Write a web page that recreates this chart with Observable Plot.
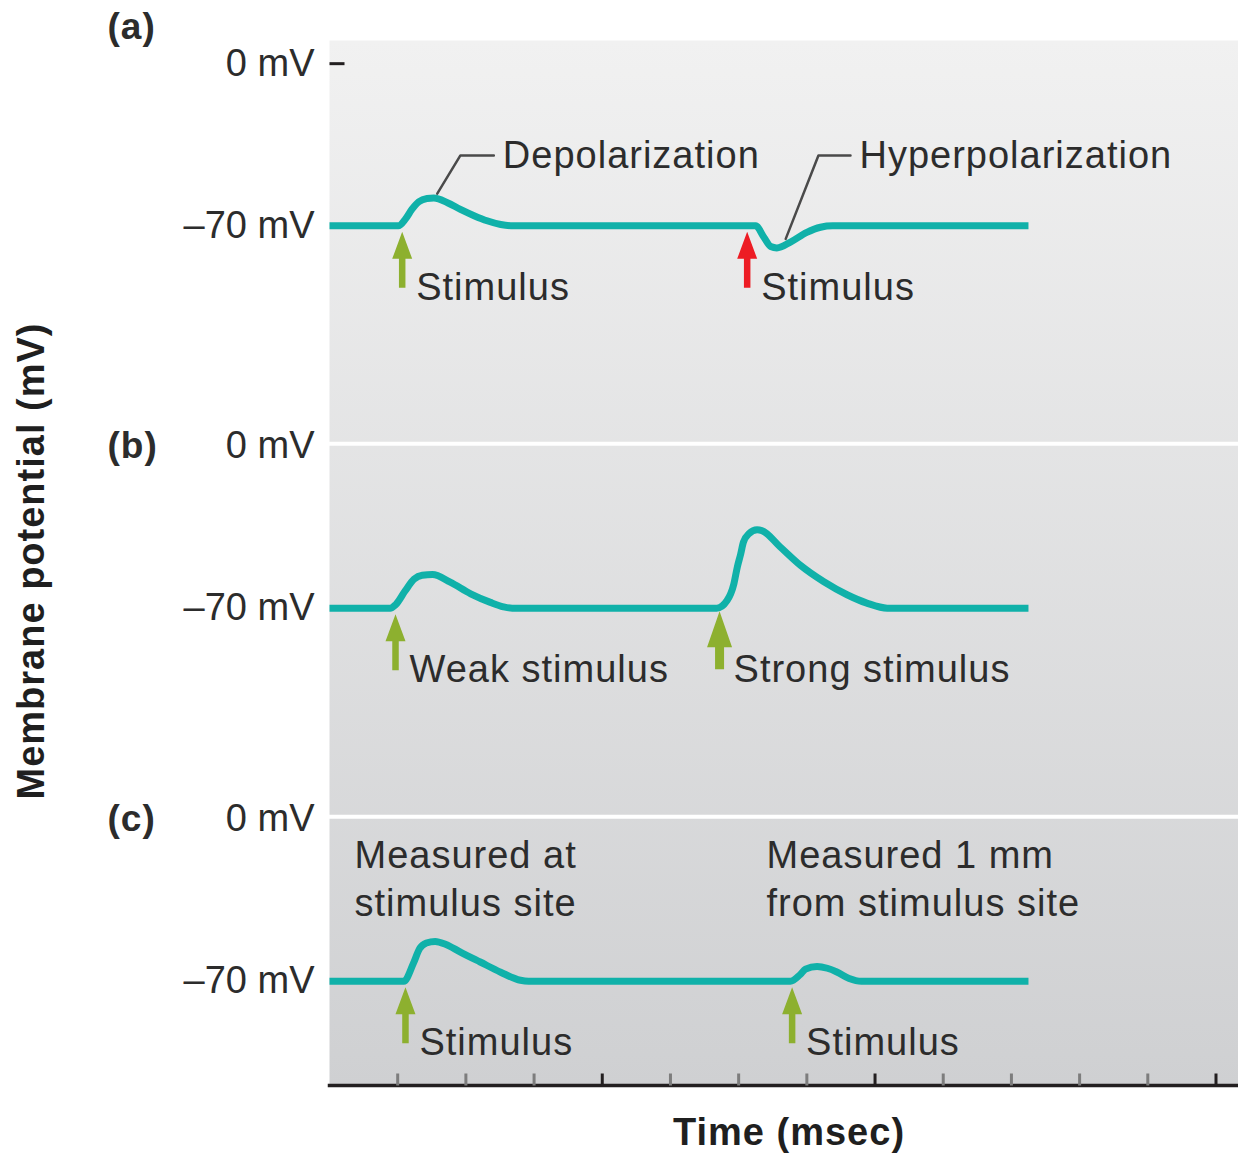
<!DOCTYPE html>
<html>
<head>
<meta charset="utf-8">
<script src="https://cdn.jsdelivr.net/npm/d3@7"></script>
<script src="https://cdn.jsdelivr.net/npm/@observablehq/plot@0.6"></script>
<style>
  body { margin: 0; background: #ffffff; }
  #chart svg { display: block; }
  #chart g[aria-label="text"] text { letter-spacing: 1px; }
</style>
</head>
<body>
<div id="chart"></div>
<script>
// ---------- panels (visible mV range of each stacked panel) ----------
const panels = ["a", "b", "c"];
const panelLabels = ["(a)", "(b)", "(c)"];
const panelTopMV = [10, 1, 1];
const panelBottomMV = [-164, -160, -115];
const yTickMV = [0, -70];

// ---------- time axis ----------
const timeDomain = [0, 13.33];
const xTicks = [1, 2, 3, 4, 5, 6, 7, 8, 9, 10, 11, 12, 13];
const xMajorTicks = [4, 8, 13];

// ---------- traces (time, membrane potential in mV) ----------
const traceA_t  = [0, 1.01, 1.11, 1.21, 1.31, 1.43, 1.53, 1.73, 1.92, 2.12, 2.31, 2.51, 2.70, 6.25, 6.37, 6.47, 6.56, 6.76, 7.00, 7.20, 7.38, 10.25];
const traceA_mv = [-70, -70, -67.2, -62.8, -59.6, -58.2, -58, -60, -62.9, -65.6, -67.8, -69.4, -70, -70, -74.9, -78.9, -79.5, -77, -72.8, -70.6, -70, -70];

const traceB_t  = [0, 0.89, 0.97, 1.11, 1.24, 1.36, 1.51, 1.77, 2.07, 2.36, 2.55, 2.68, 5.68, 5.83, 5.93, 5.98, 6.03, 6.07, 6.15, 6.27, 6.34, 6.61, 6.91, 7.25, 7.59, 7.88, 8.18, 10.25];
const traceB_mv = [-70, -70, -68.5, -62.5, -57.5, -55.8, -55.5, -58.8, -63.8, -67.5, -69.4, -70, -70, -66.7, -59.5, -52.3, -46.6, -41.5, -37.9, -36.2, -36.5, -43.6, -51.6, -58.6, -64.2, -67.8, -70, -70];

const traceC_t  = [0, 1.09, 1.23, 1.32, 1.42, 1.55, 1.70, 1.92, 2.21, 2.51, 2.80, 2.92, 6.76, 6.90, 6.98, 7.15, 7.30, 7.44, 7.62, 7.80, 10.25];
const traceC_mv = [-70, -70, -62.3, -56, -53.5, -52.8, -54, -57.4, -61.7, -66.1, -69.6, -70, -70, -67.2, -64.8, -63.6, -64.4, -66, -68.8, -70, -70];

// ---------- stimuli (arrows + labels) ----------
const stimulusPanel    = ["a", "a", "b", "b", "c", "c"];
const stimulusTime     = [1.066, 6.125, 0.968, 5.72, 1.114, 6.784];
const stimulusColor    = ["#8db02f", "#ed1c24", "#8db02f", "#8db02f", "#8db02f", "#8db02f"];
const stimulusStrength = ["normal", "normal", "normal", "strong", "normal", "normal"];
const stimulusText     = ["Stimulus", "Stimulus", "Weak stimulus", "Strong stimulus", "Stimulus", "Stimulus"];
const stimulusLevelMV  = -70;

// ---------- callouts ----------
const leaderIds  = ["dep", "dep", "dep", "hyp", "hyp", "hyp"];
const leaderT    = [1.58, 1.92, 2.41, 6.69, 7.17, 7.64];
const leaderMV   = [-56.1, -39.6, -39.6, -75.6, -39.6, -39.6];
const calloutText = ["Depolarization", "Hyperpolarization"];
const calloutT    = [2.41, 7.64];
const calloutMV   = [-39.6, -39.6];

const noteText  = ["Measured at\nstimulus site", "Measured 1 mm\nfrom stimulus site"];
const noteT     = [0.367, 6.408];
const noteMV    = [-24.8, -24.8];
const notePanel = ["c", "c"];

const xTitle = "Time (msec)";
const yTitle = "Membrane potential (mV)";

// ---------- stacked vertical coordinate ----------
const base = [0];
for (let i = 1; i < panels.length; i++) base[i] = base[i - 1] + panelBottomMV[i - 1] - panelTopMV[i];
const pIdx = p => panels.indexOf(p);
const stackY = (p, mv) => mv + base[pIdx(p)];
const yTop = panelTopMV[0] + base[0];
const yBottom = panelBottomMV[panels.length - 1] + base[panels.length - 1];
const boundaries = panels.slice(0, -1).map((p, i) => panelBottomMV[i] + base[i]);

const yTickValues = panels.flatMap((p, i) => yTickMV.map(v => v + base[i]));
const yTickText = new Map(panels.flatMap((p, i) => yTickMV.map(v => [v + base[i], (v < 0 ? "\u2013" + Math.abs(v) : String(v)) + " mV"])));

const traceRows = [];
[["a", traceA_t, traceA_mv], ["b", traceB_t, traceB_mv], ["c", traceC_t, traceC_mv]].forEach(([p, ts, vs]) => {
  ts.forEach((t, i) => traceRows.push({panel: p, t, y: stackY(p, vs[i])}));
});

const stimuli = stimulusTime.map((t, i) => ({
  t, y: stackY(stimulusPanel[i], stimulusLevelMV), hue: stimulusColor[i],
  strength: stimulusStrength[i], text: stimulusText[i]
}));
const leaders = leaderT.map((t, i) => ({id: leaderIds[i], t, y: stackY("a", leaderMV[i])}));
const callouts = calloutText.map((text, i) => ({text, t: calloutT[i], y: stackY("a", calloutMV[i])}));
const notes = noteText.map((text, i) => ({text, t: noteT[i], y: stackY(notePanel[i], noteMV[i])}));
const panelLabelRows = panels.map((p, i) => ({text: panelLabels[i], y: stackY(p, 0), first: i === 0}));

// ---------- shapes ----------
const arrowShape = (shaft, head, headLen) => ({
  draw(ctx, l) {
    ctx.moveTo(-shaft / 2, 0);
    ctx.lineTo(-shaft / 2, -l + headLen);
    ctx.lineTo(-head / 2, -l + headLen);
    ctx.lineTo(0, -l);
    ctx.lineTo(head / 2, -l + headLen);
    ctx.lineTo(shaft / 2, -l + headLen);
    ctx.lineTo(shaft / 2, 0);
    ctx.closePath();
  }
});
const lineShape = { draw(ctx, l) { ctx.moveTo(0, 0); ctx.lineTo(0, -l); } };

const textFont = "'Liberation Sans', Arial, Helvetica, sans-serif";
const ink = "#2c2c2c";

const plot = Plot.plot({
  width: 1238,
  height: 1154,
  marginTop: 40,
  marginBottom: 69,
  marginLeft: 329,
  marginRight: 0,
  x: {domain: timeDomain, axis: null},
  y: {domain: [yBottom, yTop], axis: null},
  color: {type: "identity"},
  style: {fontFamily: textFont, fontSize: "38px", color: ink, background: "transparent"},
  marks: [
    Plot.frame({fill: "url(#bgGrad)", stroke: "none"}),
    Plot.ruleY(boundaries, {stroke: "#ffffff", strokeWidth: 4}),
    // x axis line and inward ticks
    Plot.frame({anchor: "bottom", stroke: "#231f20", strokeWidth: 3.5}),
    Plot.vector(xTicks, {x: d => d, y: yBottom, rotate: 0, length: 12, anchor: "start", shape: lineShape,
      stroke: d => xMajorTicks.includes(d) ? "#231f20" : "#7d7d7d", strokeWidth: 3, strokeLinecap: "butt"}),
    // y axis tick labels
    Plot.axisY(yTickValues, {tickSize: 0, tickPadding: 15, tickFormat: v => yTickText.get(v), fontSize: 38, label: null, fill: ink}),
    Plot.vector([yTickValues[0]], {x: timeDomain[0], y: d => d, rotate: 90, length: 15, anchor: "start", shape: lineShape,
      stroke: "#231f20", strokeWidth: 3, strokeLinecap: "butt"}),
    // traces
    Plot.line(traceRows, {x: "t", y: "y", z: "panel", curve: "monotone-x", stroke: "#10b1a9", strokeWidth: 7,
      strokeLinejoin: "round", strokeLinecap: "butt"}),
    // leaders
    Plot.line(leaders, {x: "t", y: "y", z: "id", stroke: "#4a4a4a", strokeWidth: 2.5, curve: "linear"}),
    // stimulus arrows
    Plot.vector(stimuli.filter(d => d.strength === "normal"), {x: "t", y: "y", rotate: 0, length: 56, anchor: "end", dy: 6,
      shape: arrowShape(6.5, 20, 27), fill: "hue", stroke: "none"}),
    Plot.vector(stimuli.filter(d => d.strength === "strong"), {x: "t", y: "y", rotate: 0, length: 58, anchor: "end", dy: 3,
      shape: arrowShape(9, 25, 36), fill: "hue", stroke: "none"}),
    // labels
    Plot.text(stimuli, {x: "t", y: "y", text: "text", textAnchor: "start", dx: 14, dy: 62, fontSize: 38, fill: ink}),
    Plot.text(callouts, {x: "t", y: "y", text: "text", textAnchor: "start", dx: 9, fontSize: 38, fill: ink}),
    Plot.text(notes, {x: "t", y: "y", text: "text", textAnchor: "start", lineHeight: 1.27, fontSize: 38, fill: ink}),
    // panel letters
    Plot.text(panelLabelRows.filter(d => d.first), {y: "y", text: "text", frameAnchor: "left", textAnchor: "start", dx: -222, dy: -37,
      fontSize: 37, fontWeight: "bold", fill: ink}),
    Plot.text(panelLabelRows.filter(d => !d.first), {y: "y", text: "text", frameAnchor: "left", textAnchor: "start", dx: -222,
      fontSize: 37, fontWeight: "bold", fill: ink}),
    // axis titles
    Plot.text([xTitle], {frameAnchor: "bottom", textAnchor: "middle", dx: 5, dy: 59, fontSize: 38, fontWeight: "bold", fill: "#1f1f1f"}),
    Plot.text([yTitle], {frameAnchor: "left", textAnchor: "middle", dx: -298, dy: -2, rotate: -90, fontSize: 38, fontWeight: "bold", fill: "#1f1f1f"})
  ]
});

const defs = d3.select(plot).insert("defs", ":first-child");
const grad = defs.append("linearGradient").attr("id", "bgGrad").attr("x1", 0).attr("y1", 0).attr("x2", 0).attr("y2", 1);
grad.append("stop").attr("offset", "0%").attr("stop-color", "#f1f1f1");
grad.append("stop").attr("offset", "100%").attr("stop-color", "#cfd0d2");

document.getElementById("chart").appendChild(plot);
</script>
</body>
</html>
